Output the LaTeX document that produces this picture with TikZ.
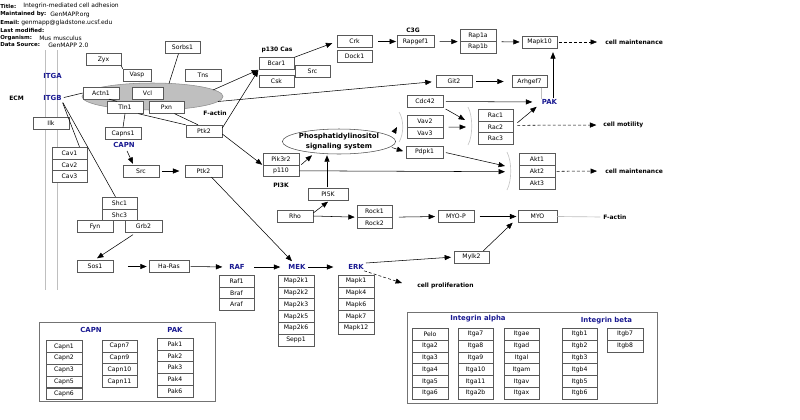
\documentclass[tikz,border=0pt]{standalone}
\usepackage{fontspec}
\setmainfont{DejaVu Sans}
\usetikzlibrary{arrows.meta,shapes.geometric,calc}
\definecolor{gblue}{RGB}{25,25,145}
\begin{document}
\begin{tikzpicture}[x=0.75pt,y=-0.75pt,
  gbox/.style={draw=black!65, fill=white, line width=0.45pt, minimum width=27pt, minimum height=8.8pt, inner sep=0pt, font=\fontsize{4.6}{5}\selectfont},
  bw/.style={minimum width=#1*0.75pt},
  lbl/.style={font=\bfseries\fontsize{4.5}{5.5}\selectfont, inner sep=0pt},
  blbl/.style={font=\bfseries\fontsize{5.2}{6}\selectfont, inner sep=0pt, text=gblue},
  pilbl/.style={font=\bfseries\fontsize{5.2}{7.4}\selectfont},
  hdrb/.style={font=\bfseries\fontsize{4.1}{5}\selectfont, inner sep=0pt, anchor=west},
  hdr/.style={font=\fontsize{4.5}{5}\selectfont, inner sep=0pt, anchor=west},
  conn/.style={line width=0.4pt},
  arr/.style={conn, -{Triangle[length=4.8pt,width=3.8pt]}},
  darr/.style={arr, dash pattern=on 2.2pt off 1.6pt},
  gline/.style={draw=black!25, line width=0.5pt},
  brk/.style={draw=black!22, line width=0.5pt},
  legbox/.style={draw=black!55, line width=0.6pt}
]
\useasboundingbox (0,0) rectangle (800,419);

% header
\node[hdrb] (h1) at (0,6) {Title:};
\node[hdr] (h1v) at (23,6) {Integrin-mediated cell adhesion};
\node[hdrb] (h2) at (0,14.5) {Maintained by:};
\node[hdr] (h2v) at (50,14.5) {GenMAPP.org};
\node[hdrb] (h3) at (0,22.5) {Email:};
\node[hdr] (h3v) at (21,22.5) {genmapp@gladstone.ucsf.edu};
\node[hdrb] (h4) at (0,30) {Last modified:};
\node[hdrb] (h5) at (0,38) {Organism:};
\node[hdr] (h5v) at (39,38) {Mus musculus};
\node[hdrb] (h6) at (0,45) {Data Source:};
\node[hdr] (h6v) at (48,45) {GenMAPP 2.0};

% membrane lines
\draw[gline] (45,50) -- (45,290);
\draw[gline] (57,50) -- (57,290);

% F-actin ellipse
\node[ellipse, draw=black!45, fill=black!25, minimum width=141*0.75pt, minimum height=27*0.75pt, inner sep=0pt] (Fact) at (152.5,96.5) {};
\coordinate (fa1) at (218,101.5);
\coordinate (fa2) at (213,90);
\coordinate (fa3) at (169,83.5);

% labels
\node[lbl] (ECM) at (16.5,98) {ECM};
\node[blbl] (ITGA) at (52.5,76) {ITGA};
\node[blbl] (ITGB) at (52.5,98) {ITGB};
\node[lbl] (Factl) at (215,113.5) {F-actin};
\node[lbl] (p130) at (277,50) {p130 Cas};
\node[lbl] (C3G) at (413,30) {C3G};
\node[blbl] (PAK) at (549.5,102) {PAK};
\node[blbl] (CAPN) at (124,145) {CAPN};
\node[lbl] (PI3K) at (281,185) {PI3K};
\node[blbl] (RAF) at (237,267) {RAF};
\node[blbl] (MEK) at (297,267) {MEK};
\node[blbl] (ERK) at (356,267) {ERK};
\node[lbl, anchor=west] (cm1) at (605,42) {cell maintenance};
\node[lbl, anchor=west] (cmot) at (603,125) {cell motility};
\node[lbl, anchor=west] (cm2) at (605,171) {cell maintenance};
\node[lbl, anchor=west] (fac) at (603,217) {F-actin};
\node[lbl, anchor=west] (cp) at (417,286) {cell proliferation};

% boxes - adhesion complex
\node[gbox,bw=35] (Zyx) at (103.5,59.5) {Zyx};
\node[gbox,bw=28] (Vasp) at (137,75) {Vasp};
\node[gbox,bw=35] (Sorbs1) at (182.5,47.5) {Sorbs1};
\node[gbox,bw=36] (Tns) at (203,75) {Tns};
\node[gbox,bw=36] (Actn1) at (101,93) {Actn1};
\node[gbox,bw=31] (Vcl) at (147.5,93) {Vcl};
\node[gbox,bw=36] (Tln1) at (125,107.5) {Tln1};
\node[gbox,bw=35] (Pxn) at (166.5,107.5) {Pxn};
\node[gbox,bw=36] (Ilk) at (51,123) {Ilk};
\node[gbox,bw=36] (Capns1) at (123,133.5) {Capns1};
\node[gbox,bw=36] (Ptk2a) at (204,131) {Ptk2};

% p130Cas / Crk
\node[gbox,bw=35] (Bcar1) at (276.5,63.5) {Bcar1};
\node[gbox,bw=35] (Src1) at (312.5,71.5) {Src};
\node[gbox,bw=35] (Csk) at (276.5,81.5) {Csk};
\node[gbox,bw=35] (Crk) at (354.5,41.5) {Crk};
\node[gbox,bw=35] (Dock1) at (354.5,56) {Dock1};
\node[gbox,bw=37] (Rapgef1) at (415.5,41.5) {Rapgef1};
\node[gbox,bw=36] (Rap1a) at (478,35.5) {Rap1a};
\node[gbox,bw=36] (Rap1b) at (478,47.3) {Rap1b};
\node[gbox,bw=35] (Mapk10) at (539.5,42) {Mapk10};
\node[gbox,bw=36] (Git2) at (454,81.5) {Git2};
\node[gbox,bw=35] (Arhgef7) at (529.5,81.5) {Arhgef7};

% Rac / PAK
\node[gbox,bw=36] (Cdc42) at (425,101.5) {Cdc42};
\node[gbox,bw=36] (Vav2) at (425,121) {Vav2};
\node[gbox,bw=36] (Vav3) at (425,132.8) {Vav3};
\node[gbox,bw=35] (Rac1) at (495.5,115) {Rac1};
\node[gbox,bw=35] (Rac2) at (495.5,126.8) {Rac2};
\node[gbox,bw=35] (Rac3) at (495.5,138.6) {Rac3};
\node[gbox,bw=37] (Pdpk1) at (424.5,152) {Pdpk1};
\node[gbox,bw=36] (Akt1) at (537,159.5) {Akt1};
\node[gbox,bw=36] (Akt2) at (537,171.3) {Akt2};
\node[gbox,bw=36] (Akt3) at (537,183.1) {Akt3};

% PI3K
\node[ellipse, draw=black!70, fill=white, minimum width=92*0.75pt, minimum height=25*0.75pt, inner sep=0pt, align=center, pilbl] (PIS) at (339,141.5) {Phosphatidylinositol\\signaling system};
\node[gbox,bw=36] (Pik3r2) at (281,159) {Pik3r2};
\node[gbox,bw=36] (p110) at (281,170.8) {p110};
\node[gbox,bw=37] (Ptk2b) at (203.5,171) {Ptk2};
\node[gbox,bw=36] (Src2) at (141,171) {Src};
\node[gbox,bw=35] (Cav1) at (69.5,153) {Cav1};
\node[gbox,bw=35] (Cav2) at (69.5,164.8) {Cav2};
\node[gbox,bw=35] (Cav3) at (69.5,176.6) {Cav3};
\node[gbox,bw=40] (PI5K) at (328,194.5) {PI5K};
\node[gbox,bw=36] (Rho) at (295,216) {Rho};
\node[gbox,bw=35] (Rock1) at (374.5,211) {Rock1};
\node[gbox,bw=35] (Rock2) at (374.5,222.8) {Rock2};
\node[gbox,bw=36] (MYOP) at (456,216.5) {MYO-P};
\node[gbox,bw=39] (MYO) at (537.5,216.5) {MYO};
\node[gbox,bw=35] (Mylk2) at (471.5,257) {Mylk2};

% Shc / Ras / MAPK
\node[gbox,bw=35] (Shc1) at (119.5,203) {Shc1};
\node[gbox,bw=35] (Shc3) at (119.5,214.8) {Shc3};
\node[gbox,bw=36] (Fyn) at (95,226.5) {Fyn};
\node[gbox,bw=37] (Grb2) at (143.5,226.5) {Grb2};
\node[gbox,bw=36] (Sos1) at (95,266.5) {Sos1};
\node[gbox,bw=40] (HaRas) at (169,266.5) {Ha-Ras};
\node[gbox,bw=35] (Raf1) at (236.5,281) {Raf1};
\node[gbox,bw=35] (Braf) at (236.5,292.8) {Braf};
\node[gbox,bw=35] (Araf) at (236.5,304.6) {Araf};
\node[gbox,bw=36] (Map2k1) at (296,281) {Map2k1};
\node[gbox,bw=36] (Map2k2) at (296,292.8) {Map2k2};
\node[gbox,bw=36] (Map2k3) at (296,304.6) {Map2k3};
\node[gbox,bw=36] (Map2k5) at (296,316.4) {Map2k5};
\node[gbox,bw=36] (Map2k6) at (296,328.2) {Map2k6};
\node[gbox,bw=36] (Sepp1) at (296,340) {Sepp1};
\node[gbox,bw=36] (Mapk1) at (356,281) {Mapk1};
\node[gbox,bw=36] (Mapk4) at (356,292.8) {Mapk4};
\node[gbox,bw=36] (Mapk6) at (356,304.6) {Mapk6};
\node[gbox,bw=36] (Mapk7) at (356,316.4) {Mapk7};
\node[gbox,bw=36] (Mapk12) at (356,328.2) {Mapk12};

% brackets
\coordinate (b1c) at (397,127);
\coordinate (b2a) at (465,120);
\coordinate (b2c) at (466,127);
\coordinate (b3a) at (505,166);
\coordinate (b3c) at (505,171.7);
\draw[brk] (399,112) .. controls (404,120) and (404,134) .. (399,142);
\draw[brk] (468,107) .. controls (473,116) and (473,136) .. (468,145);
\draw[brk] (507,152) .. controls (512,162) and (512,180) .. (507,190);

% connectors: adhesion complex
\draw[conn, shorten <=1.5pt] (ITGB.east) -- (Actn1.west);
\draw[conn, shorten <=1.5pt] (ITGB.south east) -- ($(Cav1.north)+(10,0)$);
\draw[conn, shorten <=1.5pt] (ITGB.south east) -- ($(Shc1.north)+(-4,0)$);
\draw[conn] (Zyx.south east) -- (Vasp.north west);
\draw[conn] ($(Sorbs1.south)+(-4,0)$) -- (fa3);
\draw[conn] ($(Actn1.south)+(8,0)$) -- ($(Tln1.north)+(-8,0)$);
\draw[conn] (Tln1.south) -- (Capns1.north);
\draw[conn] ($(Tln1.south east)+(-5,0)$) -- (Ptk2a.north west);
\draw[conn] ($(Pxn.south)+(8,0)$) -- ($(Ptk2a.north)+(-6,0)$);
\draw[arr, shorten >=0.5pt] (fa2) -- (Bcar1.south west);
\draw[arr, shorten >=0.5pt] ($(Ptk2a.east)+(0,-3)$) -- (Bcar1.south west);
\draw[arr, shorten >=0.5pt] ($(Ptk2a.east)+(0,3)$) -- (Pik3r2.south west);
\draw[arr, shorten >=3.5pt] (Bcar1.north east) -- (Crk.west);
\draw[arr, shorten <=4.5pt, shorten >=0.5pt] (Crk.east) -- (Rapgef1.west);
\draw[arr, shorten <=4pt, shorten >=1.5pt] (Rapgef1.east) -- (Rap1a.south west);
\draw[arr, shorten <=4pt, shorten >=1.5pt] (Rap1a.south east) -- (Mapk10.west);
\draw[darr, shorten <=1pt, shorten >=6pt] (Mapk10.east) -- (cm1.west);
\draw[arr, shorten >=3pt] (fa1) -- (Git2.west);
\draw[arr, shorten <=3pt, shorten >=6pt] (Git2.east) -- (Arhgef7.west);
\draw[gline] (Arhgef7.south -| PAK.west) -- (PAK.north west);
\draw[arr, shorten >=3pt] ($(PAK.north)+(3.5,-1)$) -- ($(Mapk10.south)+(13.5,0)$);
\draw[arr, shorten <=2pt, shorten >=7pt] (Cdc42.east) -- (PAK.west);
\draw[arr, shorten <=2pt] (Cdc42.south east) -- (b2a);
\draw[arr, shorten <=4pt] (Vav2.south east) -- (b2c);
\draw[arr] ($(Rac2.east)+(4,-4)$) -- ($(PAK.south west)+(-5,2)$);
\draw[darr, shorten >=5pt] ($(Rac2.east)+(4,-1.5)$) -- (cmot.west);

% PI3K area
\draw[arr] ($(PIS.east)+(-2,-9)$) -- (b1c);
\draw[arr, shorten >=2pt] ($(PIS.east)+(-4,6)$) -- (Pdpk1.west);
\draw[arr, shorten <=2pt] (Pdpk1.east) -- (b3a);
\draw[arr] (p110.east) -- (b3c);
\draw[darr, shorten <=1pt, shorten >=6pt] (Akt2.east) -- (cm2.west);
\draw[arr] ($(p110.north east)+(2,0)$) -- ($(PIS.south)+(-27,1)$);
\draw[arr] ($(PI5K.north)+(-1,-1)$) -- ($(PIS.south)+(-12,1)$);
\draw[arr] ($(Rho.east)+(0,-3)$) -- ($(PI5K.south)+(0,1)$);
\draw[arr, shorten >=1.5pt] (Rho.east) -- (Rock1.south west);
\draw[arr, shorten <=5pt, shorten >=2pt] (Rock1.south east) -- (MYOP.west);
\draw[arr, shorten <=4pt, shorten >=1pt] (MYOP.east) -- (MYO.west);
\draw[gline, shorten >=2pt] (MYO.east) -- (fac.west);
\draw[arr] ($(Mylk2.north east)+(-6,0)$) -- ($(MYO.south west)+(-5,0)$);
\draw[arr, shorten >=2pt] ($(ERK.east)+(2,-4)$) -- (Mylk2.west);
\draw[darr] ($(ERK.south east)+(0,1)$) -- ($(cp.west)+(-15,-3)$);

% Ras/MAPK
\draw[arr, shorten <=1pt, shorten >=5pt] (HaRas.east) -- (RAF.west);
\draw[arr, shorten <=7pt, shorten >=6pt] (RAF.east) -- (MEK.west);
\draw[arr, shorten <=2pt, shorten >=11pt] (MEK.east) -- (ERK.west);
\draw[arr, shorten <=11pt, shorten >=1.5pt] (Sos1.east) -- (HaRas.west);
\draw[arr] ($(Grb2.south)+(-10.5,2)$) -- ($(Sos1.north)+(2,-2)$);
\draw[arr, shorten <=2pt, shorten >=4pt] (Src2.east) -- (Ptk2b.west);
\draw[arr] ($(CAPN.south)+(3,3)$) -- ($(Src2.north)+(-8,-1)$);
\draw[arr] ($(Ptk2b.south)+(8,0)$) -- ($(MEK.north)+(-5,-3)$);

% legend 1
\draw[legbox] (39,322) rectangle (215,401);
\node[blbl] (LCAPN) at (91,330) {CAPN};
\node[blbl] (LPAK) at (175,330) {PAK};
\node[gbox,bw=36] (Capn1) at (64,346.5) {Capn1};
\node[gbox,bw=36] (Capn2) at (64,358.3) {Capn2};
\node[gbox,bw=36] (Capn3) at (64,370.1) {Capn3};
\node[gbox,bw=36] (Capn5) at (64,381.9) {Capn5};
\node[gbox,bw=36] (Capn6) at (64,393.7) {Capn6};
\node[gbox,bw=35] (Capn7) at (119.5,346) {Capn7};
\node[gbox,bw=35] (Capn9) at (119.5,357.8) {Capn9};
\node[gbox,bw=35] (Capn10) at (119.5,369.6) {Capn10};
\node[gbox,bw=35] (Capn11) at (119.5,381.4) {Capn11};
\node[gbox,bw=36] (Pak1) at (175,344) {Pak1};
\node[gbox,bw=36] (Pak2) at (175,355.8) {Pak2};
\node[gbox,bw=36] (Pak3) at (175,367.6) {Pak3};
\node[gbox,bw=36] (Pak4) at (175,379.4) {Pak4};
\node[gbox,bw=36] (Pak6) at (175,391.2) {Pak6};

% legend 2
\draw[legbox] (407,312) rectangle (657,403);
\node[blbl] (LIa) at (478,318.5) {Integrin alpha};
\node[blbl] (LIb) at (606.5,321) {Integrin beta};
\node[gbox,bw=36] (Pelo) at (430,334.2) {Pelo};
\node[gbox,bw=36] (Itga2) at (430,346) {Itga2};
\node[gbox,bw=36] (Itga3) at (430,357.8) {Itga3};
\node[gbox,bw=36] (Itga4) at (430,369.6) {Itga4};
\node[gbox,bw=36] (Itga5) at (430,381.4) {Itga5};
\node[gbox,bw=36] (Itga6) at (430,393.2) {Itga6};
\node[gbox,bw=35] (Itga7) at (475.5,334.2) {Itga7};
\node[gbox,bw=35] (Itga8) at (475.5,346) {Itga8};
\node[gbox,bw=35] (Itga9) at (475.5,357.8) {Itga9};
\node[gbox,bw=35] (Itga10) at (475.5,369.6) {Itga10};
\node[gbox,bw=35] (Itga11) at (475.5,381.4) {Itga11};
\node[gbox,bw=35] (Itga2b) at (475.5,393.2) {Itga2b};
\node[gbox,bw=35] (Itgae) at (521.5,334.2) {Itgae};
\node[gbox,bw=35] (Itgad) at (521.5,346) {Itgad};
\node[gbox,bw=35] (Itgal) at (521.5,357.8) {Itgal};
\node[gbox,bw=35] (Itgam) at (521.5,369.6) {Itgam};
\node[gbox,bw=35] (Itgav) at (521.5,381.4) {Itgav};
\node[gbox,bw=35] (Itgax) at (521.5,393.2) {Itgax};
\node[gbox,bw=35] (Itgb1) at (579.5,334.2) {Itgb1};
\node[gbox,bw=35] (Itgb2) at (579.5,346) {Itgb2};
\node[gbox,bw=35] (Itgb3) at (579.5,357.8) {Itgb3};
\node[gbox,bw=35] (Itgb4) at (579.5,369.6) {Itgb4};
\node[gbox,bw=35] (Itgb5) at (579.5,381.4) {Itgb5};
\node[gbox,bw=35] (Itgb6) at (579.5,393.2) {Itgb6};
\node[gbox,bw=36] (Itgb7) at (625,334.2) {Itgb7};
\node[gbox,bw=36] (Itgb8) at (625,346) {Itgb8};
\end{tikzpicture}
\end{document}
